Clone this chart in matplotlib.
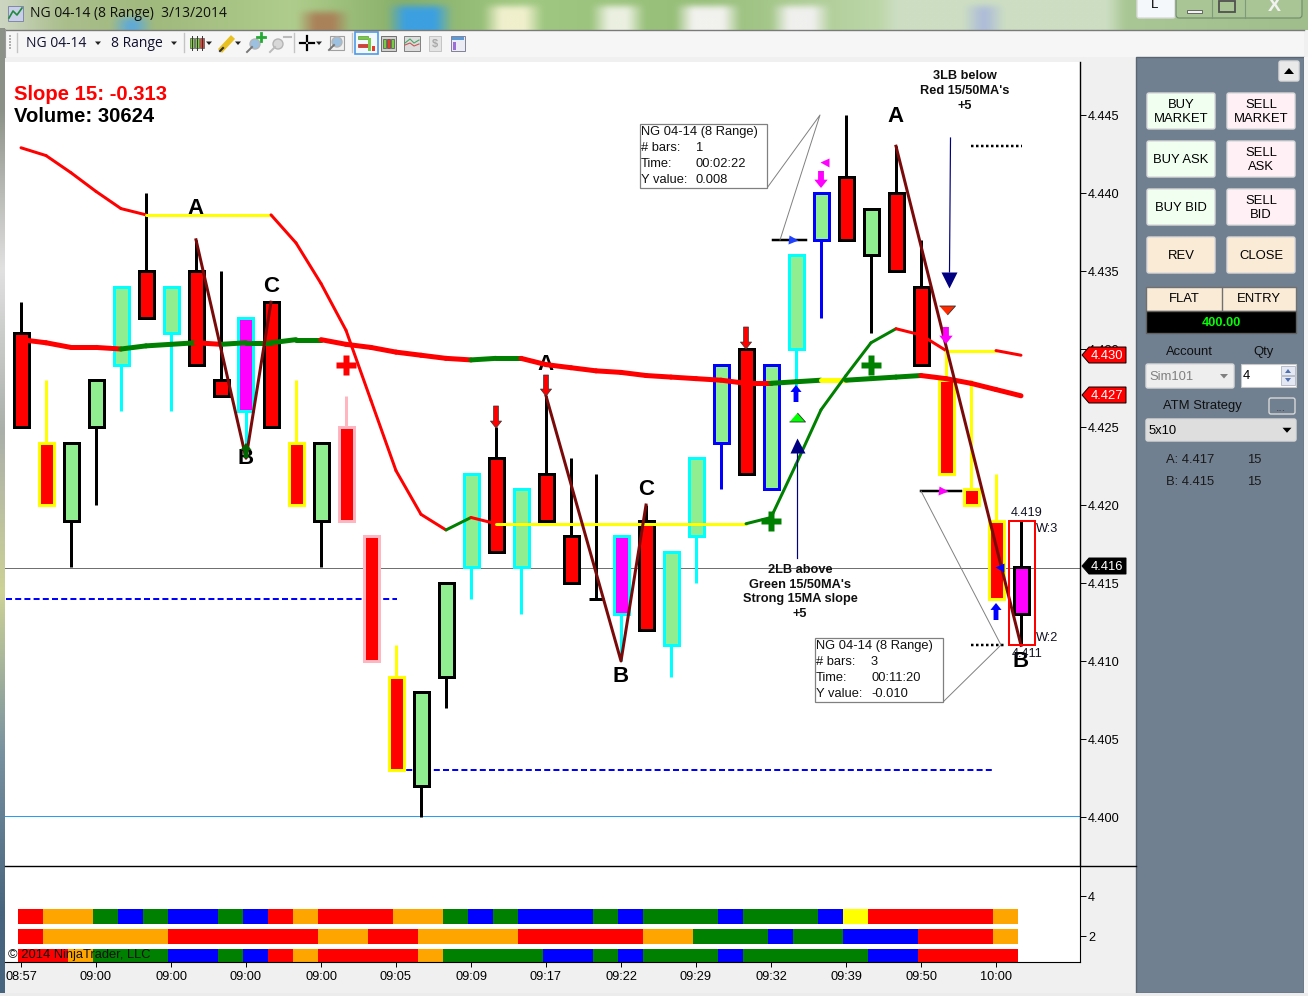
import numpy as np
import matplotlib
matplotlib.use("Agg")
import matplotlib.pyplot as plt
from matplotlib.patches import Rectangle, FancyBboxPatch, Polygon, Circle

plt.rcParams["font.family"] = ["Liberation Sans", "DejaVu Sans"]

W, H = 1308, 996

# ── Data ──────────────────────────────────────────────────────────────────────

body_top = [4.431, 4.424, 4.424, 4.428, 4.434, 4.435, 4.434, 4.435, 4.428, 4.432, 4.433,
            4.424, 4.424, 4.425, 4.418, 4.409, 4.408, 4.415, 4.422, 4.423, 4.421,
            4.422, 4.418, 4.414, 4.418, 4.419, 4.417, 4.423, 4.429, 4.430, 4.429,
            4.436, 4.440, 4.441, 4.439, 4.440, 4.434, 4.428, 4.421, 4.419, 4.416]
body_bot = [4.425, 4.420, 4.419, 4.425, 4.429, 4.432, 4.431, 4.429, 4.427, 4.426, 4.425,
            4.420, 4.419, 4.419, 4.410, 4.403, 4.402, 4.409, 4.416, 4.417, 4.416,
            4.419, 4.415, 4.414, 4.413, 4.412, 4.411, 4.418, 4.424, 4.422, 4.421,
            4.430, 4.437, 4.437, 4.436, 4.435, 4.429, 4.422, 4.420, 4.414, 4.413]
wick_high = [4.433, 4.428, 4.424, 4.428, 4.434, 4.440, 4.434, 4.437, 4.435, 4.432, 4.433,
             4.428, 4.424, 4.427, 4.418, 4.411, 4.408, 4.415, 4.422, 4.425, 4.421,
             4.427, 4.423, 4.422, 4.418, 4.420, 4.417, 4.423, 4.429, 4.430, 4.429,
             4.436, 4.440, 4.445, 4.439, 4.443, 4.437, 4.430, 4.428, 4.422, 4.419]
wick_low = [4.425, 4.420, 4.416, 4.420, 4.426, 4.432, 4.426, 4.429, 4.427, 4.423, 4.425,
            4.420, 4.416, 4.419, 4.410, 4.403, 4.400, 4.407, 4.414, 4.417, 4.413,
            4.419, 4.415, 4.414, 4.410, 4.412, 4.409, 4.415, 4.421, 4.422, 4.421,
            4.427, 4.432, 4.437, 4.431, 4.435, 4.429, 4.422, 4.420, 4.414, 4.411]
# fill: r red, g light green, m magenta   edge: k black, y yellow, c cyan, p pink, b blue
bar_fill = "rrgggrgrrmrrgrrrgggrgrrrmrggg" + "rgg" + "grgrr" + "rrrm"
bar_edge = "kykkckckkckykppykkckckkkckccb" + "kbc" + "bkkkk" + "yyyk"

ma15 = [4.4429, 4.4424, 4.4413, 4.4401, 4.4390, 4.4386, 4.4386, 4.4386, 4.4386, 4.4386, 4.4386,
        4.4368, 4.4342, 4.4312, 4.4267, 4.4222, 4.4194, 4.4184, 4.4192, 4.4188, 4.4188,
        4.4188, 4.4188, 4.4188, 4.4188, 4.4188, 4.4188, 4.4188, 4.4188, 4.4188, 4.4192,
        4.4226, 4.4261, 4.4283, 4.4304, 4.4313, 4.4309, 4.4299, 4.4299, 4.4299, 4.4296]
ma15_col = "rrrrryyyyyrrrrrrrgryyyyyyyyyygggggg" + "rryyr"
ma50 = [4.4306, 4.4304, 4.4301, 4.4301, 4.4300, 4.4302, 4.4303, 4.4304, 4.4303, 4.4304, 4.4304,
        4.4306, 4.4306, 4.4303, 4.4301, 4.4298, 4.4296, 4.4294, 4.4293, 4.4294, 4.4294,
        4.4290, 4.4288, 4.4286, 4.4285, 4.4283, 4.4282, 4.4281, 4.4280, 4.4278, 4.4278,
        4.4279, 4.4280, 4.4280, 4.4281, 4.4282, 4.4283, 4.4281, 4.4278, 4.4274, 4.4270]
ma50_col = "rrrrgggrggggrrrrrrggrrrrrrrrrrggyggg" + "rrrr"

abc_legs = [([7, 9, 10], [4.437, 4.423, 4.433]),
            ([21, 24, 25], [4.427, 4.410, 4.420]),
            ([35, 40], [4.443, 4.411])]
abc_text = [("A", 7, 4.4390), ("A", 21, 4.4290), ("A", 35, 4.4449),
            ("B", 9, 4.4230), ("B", 24, 4.4090), ("B", 40, 4.4100),
            ("C", 10, 4.4340), ("C", 25, 4.4210)]

price_ticks = [4.400, 4.405, 4.410, 4.415, 4.420, 4.425, 4.430, 4.435, 4.440, 4.445]
time_labels = ["08:57", "09:00", "09:00", "09:00", "09:00", "09:05", "09:09",
               "09:17", "09:22", "09:29", "09:32", "09:39", "09:50", "10:00"]

# rows of the lower panel: one letter per bar
row3 = "ROOGBGBBGBRORRROOGBGBBBGBGGGBGGGBYRRRRRO"
row2 = "ROOOOORRRRRROORROOOORRRRROOGGGBGGBBBRRRO"
row1 = "RROGGGBBGBRORRRROGGGGBBGBGGGBGGGGGBBRRRR"
sub_ticks = [2, 4]

# ── Helpers ───────────────────────────────────────────────────────────────────

FILL = {"r": "#ff0000", "g": "#90ee90", "m": "#ff00ff"}
EDGE = {"k": "#000000", "y": "#ffff00", "c": "#00ffff", "p": "#ffb6c1", "b": "#0000ff"}
LINE = {"r": "#ff0000", "g": "#008000", "y": "#ffff00"}
CELL = {"R": "#ff0000", "O": "#ffa500", "G": "#008000", "B": "#0000ff", "Y": "#ffff00"}
FLAT_UP = [(-8, -4.5), (8, -4.5), (0, 4.5)]
FLAT_DOWN = [(-8, 4.5), (8, 4.5), (0, -4.5)]


def px(v):
    """pixels to points at dpi 100"""
    return v * 0.72


def px_axes(fig, x0, y0, x1, y1):
    return fig.add_axes([x0 / W, 1 - y1 / H, (x1 - x0) / W, (y1 - y0) / H])


def price(y):
    return 4.4 + (817 - y) / 15600


def bar_x(x):
    return (x - 21) / 25


def button(ax, x0, y0, x1, y1, face, label=None, size=9.4):
    ax.add_patch(FancyBboxPatch((x0 + 1, y0 + 1), x1 - x0 - 2, y1 - y0 - 2,
                                boxstyle="round,pad=1,rounding_size=2",
                                fc=face, ec="#d9d9d9", lw=1))
    if label:
        ax.text((x0 + x1) / 2, (y0 + y1) / 2 + 1, label, ha="center", va="center",
                fontsize=size, linespacing=1.25, color="#000000")


def tri(ax, x, y, s=3, color="#222222"):
    ax.add_patch(Polygon([(x - s, y - s / 2), (x + s, y - s / 2), (x, y + s / 2 + 0.5)],
                         fc=color, ec="none"))


def candles_icon(ax, x):
    for dx, c in zip((0, 5, 10), ("#7ccd3c", "#7ccd3c", "#e84030")):
        ax.plot([x + dx + 2, x + dx + 2], [36, 50], color="#333333", lw=0.7)
        ax.add_patch(Rectangle((x + dx, 38), 4, 10, fc=c, ec="#555555", lw=0.5))


def glass(ax, x, y, col="#9cc0e0", handle="#777777"):
    ax.plot([x - 8, x - 3], [y + 8, y + 3], color=handle, lw=1.4)
    ax.add_patch(Circle((x, y), 5, fc=col, ec="#b5b5b5", lw=1))


def block_arrow(ax, x, y_tail, y_tip, fc, ec="none", scale=10):
    ax.annotate("", xy=(bar_x(x), price(y_tip)), xytext=(bar_x(x), price(y_tail)),
                arrowprops=dict(arrowstyle="simple,head_length=0.5,head_width=0.8,tail_width=0.35",
                                fc=fc, ec=ec, lw=0.5, mutation_scale=scale,
                                shrinkA=0, shrinkB=0), zorder=9)


def triangle(ax, x, y, kind, size, fc, ec="none"):
    ax.plot([bar_x(x)], [price(y)], marker=kind, ms=px(size), mfc=fc, mec=ec, mew=0.6,
            ls="none", zorder=9, clip_on=False)


def info_box(ax, x0, y0, x1, y1, values):
    ax.add_patch(Rectangle((x0, y0), x1 - x0, y1 - y0, fc="white", ec="#808080", lw=0.9, zorder=12))
    rows = ["NG 04-14 (8 Range)", "# bars:", "Time:", "Y value:"]
    for k, r in enumerate(rows):
        ax.text(x0 + 1, y0 + 8 + 16 * k, r, fontsize=9.3, va="center", color="#111111", zorder=13)
    for k, v in enumerate(values):
        ax.text(x0 + 56, y0 + 24 + 16 * k, v, fontsize=9.3, va="center", color="#111111", zorder=13)


# ── Window chrome ─────────────────────────────────────────────────────────────

fig = plt.figure(figsize=(W / 100, H / 100), dpi=100, facecolor="#f0f0f0")
ui = fig.add_axes([0, 0, 1, 1])
ui.set_xlim(0, W)
ui.set_ylim(H, 0)
ui.axis("off")

# blurred desktop behind the title bar
col_x = np.array([0, 60, 150, 290, 400, 520, 700, 880, 1100, 1308])
col_c = np.array([[205, 214, 195], [170, 190, 140], [160, 185, 125], [175, 205, 140], [135, 175, 105],
                  [160, 200, 130], [150, 190, 120], [190, 215, 170], [170, 200, 150], [160, 190, 140]]) / 255
grid = np.stack([np.interp(np.arange(0, W, 6), col_x, col_c[:, k]) for k in range(3)], axis=-1)
strip = np.repeat(grid[None, :, :], 5, axis=0)


def blob(x0, x1, y0, y1, c):
    strip[y0:y1, x0 // 6:x1 // 6] = np.array(c) / 255


blob(396, 446, 1, 5, (60, 160, 225))
blob(120, 144, 3, 5, (95, 170, 215))
blob(306, 342, 2, 5, (170, 130, 90))
blob(492, 534, 1, 5, (240, 240, 205))
blob(600, 640, 1, 5, (235, 240, 225))
blob(684, 734, 1, 5, (242, 242, 238))
blob(780, 826, 1, 5, (240, 240, 238))
blob(888, 1116, 0, 5, (205, 222, 195))
blob(974, 996, 1, 5, (175, 190, 215))

kernel = np.ones(3) / 3
padded = np.pad(strip, ((0, 0), (1, 1), (0, 0)), mode="edge")
strip = np.stack([[np.convolve(padded[r, :, k], kernel, mode="valid") for k in range(3)]
                  for r in range(5)]).transpose(0, 2, 1)
ui.imshow(strip, extent=(0, W, 30, 0), aspect="auto", interpolation="bicubic", zorder=0)

edge_c = np.array([[[140, 145, 135]], [[225, 225, 225]], [[170, 175, 170]], [[205, 210, 150]],
                   [[120, 145, 160]], [[70, 100, 125]]]) / 255
ui.imshow(edge_c, extent=(0, 5, 996, 28), aspect="auto", interpolation="bilinear", zorder=0)
ui.set_xlim(0, W)
ui.set_ylim(H, 0)

# title bar
ui.add_patch(Rectangle((8, 6), 15, 15, fc="#c9cfe6", ec="#8088a8", lw=0.7))
ui.plot([9, 13, 17, 22], [18, 11, 15, 8], color="#1f8a3c", lw=1.2)
ui.text(30, 13, "NG 04-14 (8 Range)  3/13/2014", fontsize=10, family="Open Sans", va="center", color="#101010")

button(ui, 1137, -4, 1175, 18, "#f4f8fb")
ui.text(1155, 5, "L", fontsize=9.5, ha="center", va="center")
ui.add_patch(FancyBboxPatch((1176, -4), 126, 22, boxstyle="round,pad=0,rounding_size=3",
                            fc="#a9c596", ec="#6f8a6a", lw=0.8))
ui.plot([1212, 1212], [0, 18], color="#7f9a78", lw=0.8)
ui.plot([1245, 1245], [0, 18], color="#7f9a78", lw=0.8)
ui.add_patch(Rectangle((1187, 10), 15, 3, fc="#f2f2f2", ec="#555555", lw=0.6))
ui.add_patch(Rectangle((1219, 1), 16, 11, fc="none", ec="#505050", lw=1.3))
ui.text(1274, 6, "X", fontsize=14, fontweight="bold", ha="center", va="center", color="#f2f2f2")

# toolbar
ui.add_patch(Rectangle((5, 30), 1299, 27, fc="#f6f6f6", ec="none"))
ui.plot([5, 1304], [29.5, 29.5], color="#7a7a7a", lw=1)
ui.plot([5, 5], [29, 57], color="#9a9a9a", lw=0.8)
for gy in range(35, 50, 3):
    ui.add_patch(Rectangle((9, gy), 1.5, 1.5, fc="#b0b0b0", ec="none"))
for sx in (17, 184, 294, 352):
    ui.plot([sx, sx], [33, 52], color="#c4c4c4", lw=1)
ui.text(26, 43, "NG 04-14", fontsize=10, family="Open Sans", va="center", color="#101030")
ui.text(111, 43, "8 Range", fontsize=10, family="Open Sans", va="center", color="#101030")
for tx in (98, 174, 209, 238, 319):
    tri(ui, tx, 43)
candles_icon(ui, 190)
ui.plot([220, 233], [51, 37], color="#e8c020", lw=4, solid_capstyle="butt")
ui.plot([220, 223], [51, 48], color="#303030", lw=1.5)
glass(ui, 255, 44)
ui.plot([261, 261], [33, 41], color="#22aa33", lw=2)
ui.plot([257, 265], [37, 37], color="#22aa33", lw=2)
glass(ui, 278, 44, col="#d8d8d8", handle="#bbbbbb")
ui.plot([284, 291], [37, 37], color="#bbbbbb", lw=1.5)
ui.plot([307, 307], [36, 41], color="black", lw=1.6)
ui.plot([307, 307], [45, 50], color="black", lw=1.6)
ui.plot([300, 305], [43, 43], color="black", lw=1.6)
ui.plot([309, 314], [43, 43], color="black", lw=1.6)
ui.add_patch(Rectangle((330, 36), 14, 14, fc="#f0f0f0", ec="#a0a0a0", lw=0.8))
glass(ui, 337, 42)
ui.add_patch(Rectangle((355, 32), 23, 22, fc="#f2f8fe", ec="#4d9be8", lw=1.2))
ui.add_patch(Rectangle((358, 36), 10, 3, fc="#77cc44", ec="#448822", lw=0.4))
ui.add_patch(Rectangle((358, 44), 10, 3, fc="#e83a2a", ec="#882222", lw=0.4))
ui.add_patch(Rectangle((368, 38), 3, 13, fc="#77cc44", ec="none"))
ui.add_patch(Rectangle((372, 46), 3, 5, fc="#e83a2a", ec="none"))
ui.add_patch(Rectangle((381, 36), 15, 15, fc="#d0d0d0", ec="#707070", lw=0.7))
for dx, c in zip((384, 388, 392), ("#77cc44", "#e83a2a", "#77cc44")):
    ui.add_patch(Rectangle((dx - 1, 39), 2.5, 9, fc=c, ec="#333333", lw=0.4))
ui.add_patch(Rectangle((404, 36), 16, 15, fc="#dcdcdc", ec="#808080", lw=0.7))
ui.plot([405, 410, 414, 419], [43, 39, 43, 40], color="#44aa66", lw=0.8)
ui.plot([405, 410, 414, 419], [45, 43, 46, 44], color="#cc5555", lw=0.8)
ui.add_patch(Rectangle((429, 36), 12, 15, fc="#e4e4e4", ec="#c4c4c4", lw=0.7))
ui.text(435, 44, "$", fontsize=8, fontweight="bold", ha="center", va="center", color="#a8a8a8")
ui.add_patch(Rectangle((451, 36), 14, 15, fc="#ececf4", ec="#808098", lw=0.7))
ui.add_patch(Rectangle((452, 37), 12, 3, fc="#5b9bd5", ec="none"))
ui.add_patch(Rectangle((453, 42), 3, 8, fc="#9a6fd8", ec="none"))

# order entry panel
ui.add_patch(Rectangle((1136, 57), 168, 936, fc="#708090", ec="#5a6572", lw=1))
ui.add_patch(Rectangle((1304, 57), 4, 936, fc="#f6f6f6", ec="none"))
ui.add_patch(Rectangle((0, 993), W, 3, fc="#ececec", ec="none"))
button(ui, 1279, 61, 1299, 81, "#e9e9e9")
ui.add_patch(Polygon([(1284, 74), (1294, 74), (1289, 68)], fc="black", ec="none"))
for (bx0, bx1, face, labels) in ((1147, 1215, "#f0fff0", ["BUY\nMARKET", "BUY ASK", "BUY BID", "REV"]),
                                 (1227, 1295, "#fff0f5", ["SELL\nMARKET", "SELL\nASK", "SELL\nBID", "CLOSE"])):
    for k, lab in enumerate(labels):
        by = 93 + 48 * k
        button(ui, bx0, by, bx1, by + 36, "#faebd7" if k == 3 else face, lab)
ui.add_patch(Rectangle((1146, 287), 150, 24, fc="#faebd7", ec="#707070", lw=1))
ui.plot([1222, 1222], [287, 310], color="#707070", lw=1)
ui.text(1184, 299, "FLAT", fontsize=9.4, ha="center", va="center")
ui.text(1259, 299, "ENTRY", fontsize=9.4, ha="center", va="center")
ui.add_patch(Rectangle((1146, 311), 150, 22, fc="black", ec="#606060", lw=1))
ui.text(1221, 323, "400.00", fontsize=9.2, fontweight="bold", color="#00ff00", ha="center", va="center")
ui.text(1189, 352, "Account", fontsize=9.4, ha="center", va="center", color="#101010")
ui.text(1264, 352, "Qty", fontsize=9.4, ha="center", va="center", color="#101010")
button(ui, 1146, 364, 1234, 388, "#eeeeee")
ui.text(1149, 377, "Sim101", fontsize=9.4, va="center", color="#808080")
tri(ui, 1224, 376, s=4, color="#808080")
ui.add_patch(Rectangle((1241, 364), 55, 23, fc="white", ec="#c8c8c8", lw=0.8))
ui.text(1243, 376, "4", fontsize=9.4, va="center")
ui.add_patch(Rectangle((1281, 366), 14, 9, fc="#e4e8f2", ec="#b0b4c4", lw=0.6))
ui.add_patch(Rectangle((1281, 376), 14, 9, fc="#e4e8f2", ec="#b0b4c4", lw=0.6))
ui.add_patch(Polygon([(1285, 373), (1291, 373), (1288, 369)], fc="#5070b0", ec="none"))
ui.add_patch(Polygon([(1285, 378), (1291, 378), (1288, 382)], fc="#5070b0", ec="none"))
ui.text(1202, 406, "ATM Strategy", fontsize=9.4, ha="center", va="center", color="#101010")
button(ui, 1269, 398, 1295, 414, "#708090")
ui.text(1281, 408, "...", fontsize=9, ha="center", va="center", color="#444444")
button(ui, 1146, 419, 1296, 441, "#dedede")
ui.text(1149, 431, "5x10", fontsize=9.4, va="center")
tri(ui, 1287, 430, s=4.5, color="black")
for ly, lab in ((460, "A: 4.417"), (482, "B: 4.415")):
    ui.text(1166, ly, lab, fontsize=9.4, va="center", color="#1a1a1a")
    ui.text(1247, ly, "15", fontsize=9.4, va="center", color="#1a1a1a")

# ── Price panel ───────────────────────────────────────────────────────────────

ax = px_axes(fig, 5, 62, 1080, 866)
ax.set_zorder(2)
ax.set_xlim(bar_x(5), bar_x(1080))
ax.set_ylim(price(866), price(62))
ax.spines[["top", "left", "bottom"]].set_visible(False)
ax.spines["right"].set_linewidth(1.0)
ax.set_xticks([])
ax.yaxis.tick_right()
ax.set_yticks(price_ticks)
ax.set_yticklabels([f"{t:.3f}" for t in price_ticks], fontsize=9.2)
ax.tick_params(axis="y", length=px(6), width=0.7, pad=px(2))

ax.axhline(price(567.5), color="#707070", lw=0.72, zorder=1)
ax.axhline(price(815.5), color="#2a9df0", lw=0.72, zorder=1)
ax.plot([bar_x(6), bar_x(397)], [4.414, 4.414], color="#0000ff", lw=px(2), ls=(0, (3, 1.6)), zorder=1)
ax.plot([bar_x(397), bar_x(995)], [4.403, 4.403], color="#0000ff", lw=px(2), ls=(0, (3, 1.6)), zorder=1)

idx = np.arange(len(body_top))
edges = [EDGE[c] for c in bar_edge]
fills = [FILL[c] for c in bar_fill]
ax.vlines(idx, wick_low, wick_high, colors=edges, lw=px(3), zorder=2)
ax.bar(idx, np.array(body_top) - np.array(body_bot), bottom=body_bot, width=0.6,
       color=fills, edgecolor=edges, linewidth=px(3), zorder=3)

# moving averages, drawn a segment at a time because the colour follows the slope state
for k, c in enumerate(ma50_col):
    ax.plot(idx[k:k + 2], ma50[k:k + 2], color=LINE[c], lw=px(5), solid_capstyle="round", zorder=5)
for k, c in enumerate(ma15_col):
    ax.plot(idx[k:k + 2], ma15[k:k + 2], color=LINE[c], lw=px(3), solid_capstyle="round", zorder=5)

for xs, ys in abc_legs:
    ax.plot(xs, ys, color="#7a0a0a", lw=px(3), zorder=7)

for t, i, p in abc_text:
    ax.text(i, p, t, fontsize=16, fontweight="bold", ha="center", va="center", zorder=4)

# short levels
ax.plot([bar_x(773), bar_x(806)], [price(240)] * 2, color="black", lw=px(2.5), zorder=4)
ax.plot([bar_x(921), bar_x(961)], [price(491)] * 2, color="black", lw=px(2.5), zorder=4)
ax.plot([bar_x(971), bar_x(1022)], [price(146)] * 2, color="black", lw=px(2.5), ls=(0, (1, 1)), zorder=4)
ax.plot([bar_x(971), bar_x(1005)], [price(645)] * 2, color="black", lw=px(2.5), ls=(0, (1, 1)), zorder=4)

# signal markers
for x, y0, y1 in ((496, 406, 428), (546, 375, 396), (746, 327, 349)):
    block_arrow(ax, x, y0, y1, "#ff0000", ec="#333333")
block_arrow(ax, 821, 171, 188, "#ff00ff", scale=12)
block_arrow(ax, 946, 327, 344, "#ff00ff", scale=12)
block_arrow(ax, 796, 402, 385, "#0000ff")
block_arrow(ax, 996, 620, 603, "#0000ff")
block_arrow(ax, 246, 458, 443, "#006400")
triangle(ax, 797, 417, FLAT_UP, 16, "#00ff00", ec="#333333")
triangle(ax, 797, 445, "^", 15, "#000080")
triangle(ax, 949, 280, "v", 16, "#000080")
triangle(ax, 947, 310, FLAT_DOWN, 16, "#ff2a00", ec="#333333")
triangle(ax, 824, 162, "<", 9, "#ff00ff")
triangle(ax, 793, 240, ">", 9, "#2040ff")
triangle(ax, 943, 491, ">", 9, "#ff00ff")
triangle(ax, 999, 567, "<", 9, "#0000ff")
ax.plot([bar_x(797), bar_x(797)], [price(450), price(558)], color="#000080", lw=px(1.2), zorder=6)
ax.plot([bar_x(950.5), bar_x(949.5)], [price(138), price(272)], color="#000080", lw=px(1.2), zorder=6)
ax.plot([bar_x(346)], [price(365)], marker="P", ms=px(20), mfc="#ff0000", mec="none", zorder=5)
ax.plot([bar_x(871)], [price(365)], marker="P", ms=px(20), mfc="#008000", mec="none", zorder=5)
ax.plot([bar_x(771)], [price(521)], marker="P", ms=px(20), mfc="#008000", mec="none", zorder=6)

# swing box on the last bar
ax.add_patch(Rectangle((bar_x(1009), price(645)), 26 / 25, 124 / 15600, fc="none", ec="#ff0000", lw=px(2), zorder=8))
for x, y, t in ((1027, 513, "4.419"), (1047, 529, "W:3"), (1047, 638, "W:2"), (1027, 654, "4.411")):
    ax.text(bar_x(x), price(y), t, fontsize=9.2, ha="center", va="center", color="#111122", zorder=6)

# annotations
ax.text(bar_x(965), price(91), "3LB below\nRed 15/50MA's\n+5", fontsize=9.2, fontweight="bold",
        ha="center", va="center", linespacing=1.3, color="#101010", zorder=10)
ax.text(bar_x(800), price(592), "2LB above\nGreen 15/50MA's\nStrong 15MA slope\n+5", fontsize=9.2,
        fontweight="bold", ha="center", va="center", linespacing=1.3, color="#101010", zorder=10)
ax.text(9 / 1075, 1 - (94 - 62) / 804, "Slope 15: -0.313", transform=ax.transAxes, fontsize=14.6,
        fontweight="bold", color="#ff0000", va="center", zorder=10)
ax.text(9 / 1075, 1 - (117 - 62) / 804, "Volume: 30624", transform=ax.transAxes, fontsize=14.6,
        fontweight="bold", color="black", va="center", zorder=10)

# measuring tool boxes: coordinates below are in window pixels
tools = px_axes(fig, 0, 0, W, H)
tools.set_xlim(0, W)
tools.set_ylim(H, 0)
tools.axis("off")
tools.set_zorder(3)
tools.plot([5, 1136], [866, 866], color="black", lw=1, zorder=5)
tools.plot([767, 820, 780], [188, 115, 240], color="#808080", lw=0.7)
tools.plot([921, 1001, 943], [491, 645, 702], color="#808080", lw=0.7)
info_box(tools, 640, 124, 767, 188, ["1", "00:02:22", "0.008"])
info_box(tools, 815, 638, 943, 702, ["3", "00:11:20", "-0.010"])

# price tags on the axis
for y, lab, face in ((355, "4.430", "#ff0000"), (395, "4.427", "#ff0000"), (566, "4.416", "#000000")):
    tools.add_patch(Polygon([(1082, y), (1089, y - 8), (1126, y - 8), (1126, y + 8), (1089, y + 8)],
                            fc=face, ec="black", lw=0.7, zorder=14))
    tools.text(1107, y + 0.5, lab, fontsize=9.4, color="white", ha="center", va="center", zorder=15)

# ── Lower colour panel ────────────────────────────────────────────────────────

sub = px_axes(fig, 5, 866, 1080, 962)
sub.set_zorder(2)
sub.set_xlim(bar_x(5), bar_x(1080))
sub.set_ylim(0.7, 5.5)
sub.spines[["top", "left"]].set_visible(False)
sub.yaxis.tick_right()
sub.set_yticks(sub_ticks)
sub.set_yticklabels([str(t) for t in sub_ticks], fontsize=9.2)
sub.tick_params(axis="y", length=px(6), width=0.7, pad=px(2))
sub.set_xticks(np.arange(0, 42, 3))
sub.set_xticklabels(time_labels, fontsize=9.2)
sub.tick_params(axis="x", length=px(5), width=0.7, pad=px(4))

for level, row in ((3, row3), (2, row2), (1, row1)):
    sub.bar(np.arange(len(row)) - 0.12, 0.75, bottom=level - 0.375, width=1, align="edge",
            color=[CELL[c] for c in row], zorder=2)
sub.text(3 / 1075, 1 - (955 - 866) / 96, "\u00a9 2014 NinjaTrader, LLC", transform=sub.transAxes,
         fontsize=9.3, va="center", color="#101010", zorder=5)

fig.savefig("out.png", dpi=100, facecolor=fig.get_facecolor())
